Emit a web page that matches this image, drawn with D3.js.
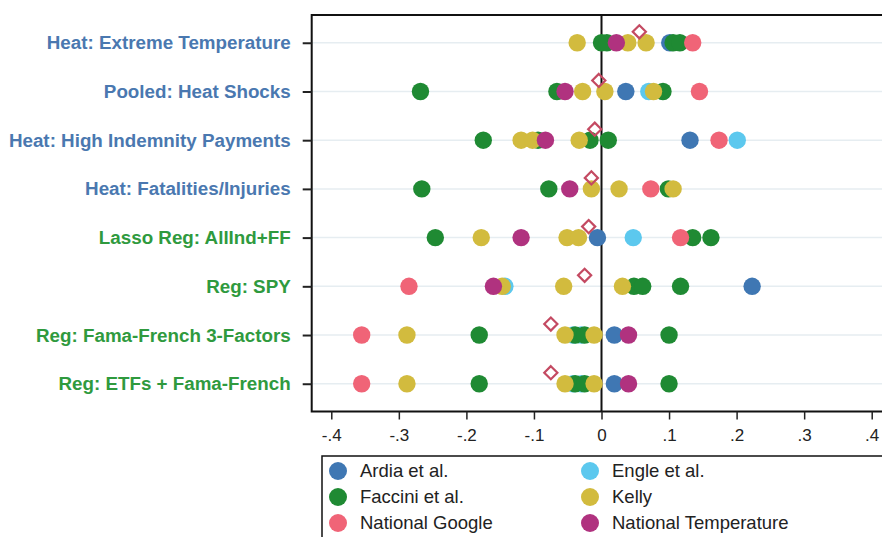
<!DOCTYPE html>
<html><head><meta charset="utf-8">
<script src="https://cdn.jsdelivr.net/npm/d3@7"></script>
<style>body{margin:0;background:#fff;overflow:hidden}svg{display:block}</style>
</head><body><svg id="c" width="882" height="537"></svg>
<script>
const categories = ["Heat: Extreme Temperature","Pooled: Heat Shocks","Heat: High Indemnity Payments","Heat: Fatalities/Injuries","Lasso Reg: AllInd+FF","Reg: SPY","Reg: Fama-French 3-Factors","Reg: ETFs + Fama-French"];
const categoryGroup = ["heat","heat","heat","heat","reg","reg","reg","reg"];
const xTicks = [-0.4,-0.3,-0.2,-0.1,0,0.1,0.2,0.3,0.4];
const xTickLabels = ["-.4","-.3","-.2","-.1","0",".1",".2",".3",".4"];
const seriesNames = ["Ardia et al.","Engle et al.","Faccini et al.","Kelly","National Google","National Temperature"];
// values per category row
const engle   = [[],[0.070],[0.201],[],[0.047],[-0.143],[-0.042,-0.030],[-0.042,-0.030]];
const ardia   = [[0.101],[0.036],[0.131],[],[-0.006],[0.223],[0.019],[0.019]];
const faccini = [[0.0,0.008,0.106,0.116],[-0.268,-0.066,0.091],[-0.175,-0.094,-0.017,0.010],[-0.266,-0.078,0.099],[-0.246,0.135,0.162],[0.048,0.061,0.117],[-0.181,-0.039,-0.025,0.100],[-0.181,-0.039,-0.025,0.100]];
const kelly   = [[-0.036,0.039,0.066],[-0.028,0.005,0.077],[-0.119,-0.102,-0.033],[-0.015,0.026,0.106],[-0.178,-0.051,-0.034],[-0.147,-0.056,0.031],[-0.288,-0.054,-0.011],[-0.288,-0.054,-0.011]];
const google  = [[0.135],[0.145],[0.174],[0.073],[0.117],[-0.285],[-0.355],[-0.355]];
const natTemp = [[0.022],[-0.054],[-0.083],[-0.047],[-0.119],[-0.160],[0.040],[0.040]];
const average = [0.056,-0.004,-0.010,-0.015,-0.019,-0.025,-0.075,-0.075];

const colors = {"Ardia et al.":"#3f77b3","Engle et al.":"#5cc8ee","Faccini et al.":"#1f8a33","Kelly":"#d2bb3e","National Google":"#f06477","National Temperature":"#b0327f"};
const groupColors = {heat:"#4a78b0", reg:"#2f9a3e"};

const svg = d3.select("#c");
const L=311.7, R=891.3, T=15, B=411.5;
const x = d3.scaleLinear().domain([-0.429,0.429]).range([L,R]);
const y = d3.scalePoint().domain(categories).range([T,B]).padding(0.57);

// gridlines
svg.append("g").selectAll("line").data(categories).join("line")
  .attr("x1",L).attr("x2",R).attr("y1",d=>y(d)).attr("y2",d=>y(d))
  .attr("stroke","#e6edf1").attr("stroke-width",1.5);
// zero line
svg.append("line").attr("x1",x(0)).attr("x2",x(0)).attr("y1",T).attr("y2",B)
  .attr("stroke","#111").attr("stroke-width",2);

// points in draw order
const drawOrder = [["Engle et al.",engle],["Ardia et al.",ardia],["Faccini et al.",faccini],["Kelly",kelly],["National Google",google],["National Temperature",natTemp]];
const pts = [];
drawOrder.forEach(([name,arr])=>arr.forEach((vals,i)=>vals.forEach(v=>pts.push({name,cat:categories[i],v}))));
svg.append("g").selectAll("circle").data(pts).join("circle")
  .attr("cx",d=>x(d.v)).attr("cy",d=>y(d.cat)).attr("r",8.7)
  .attr("fill",d=>colors[d.name]);

// average diamonds
svg.append("g").selectAll("path").data(average).join("path")
  .attr("d",d3.symbol().type(d3.symbolDiamond2).size(110))
  .attr("transform",(d,i)=>`translate(${x(d)},${y(categories[i])-11})`)
  .attr("fill","none").attr("stroke","#c44a62").attr("stroke-width",2.2);

// frame
svg.append("path").attr("d",`M${R},${T}H${L}V${B}H${R}`).attr("fill","none").attr("stroke","#111").attr("stroke-width",2);

// y axis
const yAx = svg.append("g").attr("transform",`translate(${L},0)`)
  .call(d3.axisLeft(y).tickSize(9).tickPadding(12));
yAx.select(".domain").remove();
yAx.selectAll(".tick line").attr("stroke","#222").attr("stroke-width",2);
yAx.selectAll(".tick text").attr("font-family","Liberation Sans, Arial, sans-serif")
  .attr("font-size",18.8).attr("font-weight","bold")
  .attr("fill",(d,i)=>groupColors[categoryGroup[i]]);

// x axis
const xAx = svg.append("g").attr("transform",`translate(0,${B})`)
  .call(d3.axisBottom(x).tickValues(xTicks).tickFormat((d,i)=>xTickLabels[i]).tickSize(8).tickPadding(9));
xAx.select(".domain").remove();
xAx.selectAll(".tick line").attr("stroke","#222").attr("stroke-width",1.5);
xAx.selectAll(".tick text").attr("font-family","Liberation Sans, Arial, sans-serif")
  .attr("font-size",17).attr("fill","#222");

// legend
const lg = svg.append("g");
lg.append("rect").attr("x",322).attr("y",456).attr("width",580).attr("height",100)
  .attr("fill","none").attr("stroke","#111").attr("stroke-width",1.5);
const legendOrder = ["Ardia et al.","Engle et al.","Faccini et al.","Kelly","National Google","National Temperature"];
const li = lg.selectAll("g.it").data(legendOrder).join("g").attr("class","it")
  .attr("transform",(d,i)=>`translate(${i%2===0?338:590},${471+Math.floor(i/2)*26})`);
li.append("circle").attr("r",9).attr("fill",d=>colors[d]);
li.append("text").attr("x",22).attr("dy","0.35em").text(d=>d)
  .attr("font-family","Liberation Sans, Arial, sans-serif").attr("font-size",18.5).attr("fill","#222");
</script></body></html>
